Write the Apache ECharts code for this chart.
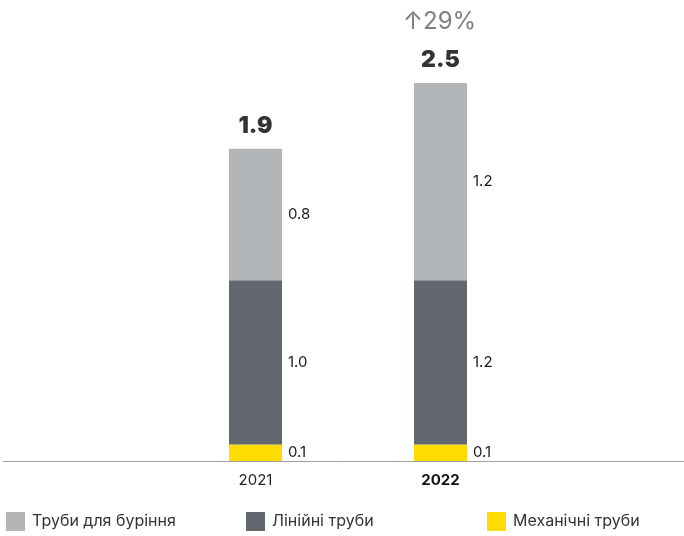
<!DOCTYPE html>
<html><head><meta charset="utf-8">
<script src="https://cdn.jsdelivr.net/npm/echarts@6/dist/echarts.min.js"></script>
<style>html,body{margin:0;padding:0;background:#fff}#c{width:684px;height:536px}</style>
</head><body><div id="c"></div>
<script>
const categories = ['2021', '2022'];
const drillingPipes = [0.8, 1.2];      // drawn heights
const linePipes = [1.0, 1.0];          // drawn heights
const mechPipes = [0.1, 0.1];          // drawn heights
const drillingLabels = ['0.8', '1.2'];
const lineLabels = ['1.0', '1.2'];
const mechLabels = ['0.1', '0.1'];
const totalLabels = ['1.9', '2.5'];
const growthText = '↑29%';
const seriesNames = ['Труби для буріння', 'Лінійні труби', 'Механічні труби'];
const colors = ['#b1b5b8', '#62686e', '#ffdd00'];

const FONT = 'Inter';
const stackTops = categories.map((c, i) => drillingPipes[i] + linePipes[i] + mechPipes[i]);

function segLabel(arr) {
  return {
    show: true, position: 'right', distance: 6,
    color: '#1a1a1a', fontSize: 15, fontFamily: FONT,
    formatter: p => arr[p.dataIndex]
  };
}

const chart = echarts.init(document.getElementById('c'), null, {renderer: 'canvas'});
chart.setOption({
  animation: false,
  grid: {left: 163, right: 151, top: 50, bottom: 75},
  xAxis: {
    type: 'category', data: categories,
    axisLine: {show: false},
    axisTick: {show: false},
    axisLabel: {
      margin: 12, fontSize: 15, fontFamily: FONT, color: '#222',
      formatter: (v, i) => i === 1 ? '{b|' + v + '}' : v,
      rich: {b: {fontWeight: 'bold', fontSize: 15, fontFamily: FONT, color: '#111'}}
    }
  },
  yAxis: {type: 'value', min: 0, max: 2.5, show: false, splitLine: {show: false}},
  legend: [0, 1, 2].map((k, idx) => ({
    data: [seriesNames[k]],
    left: [6, 246, 487][idx], top: 512,
    itemWidth: 19, itemHeight: 19, itemGap: 8, padding: 0,
    icon: 'rect',
    textStyle: {fontSize: 16, fontFamily: FONT, color: '#333', padding: [6, 0, 0, 2]}
  })),
  graphic: [
    {type: 'line', shape: {x1: 3, y1: 461.5, x2: 684, y2: 461.5}, style: {stroke: '#9ea2a6', lineWidth: 1}, z: 10},
    {type: 'text', left: 403, top: 10, style: {text: growthText, fontSize: 24, fontFamily: FONT, fill: '#7b8187'}}
  ],
  series: [
    {name: seriesNames[2], type: 'bar', stack: 's', barWidth: 53, data: mechPipes,
     itemStyle: {color: colors[2]}, label: segLabel(mechLabels)},
    {name: seriesNames[1], type: 'bar', stack: 's', barWidth: 53, data: linePipes,
     itemStyle: {color: colors[1]}, label: segLabel(lineLabels)},
    {name: seriesNames[0], type: 'bar', stack: 's', barWidth: 53, data: drillingPipes,
     itemStyle: {color: colors[0]}, label: segLabel(drillingLabels)},
    {type: 'scatter', data: stackTops, symbolSize: 0, silent: true,
     label: {show: true, position: 'top', distance: 11, fontSize: 23, fontWeight: 900,
             fontFamily: FONT, color: '#000', formatter: p => totalLabels[p.dataIndex]}}
  ]
});
</script></body></html>
